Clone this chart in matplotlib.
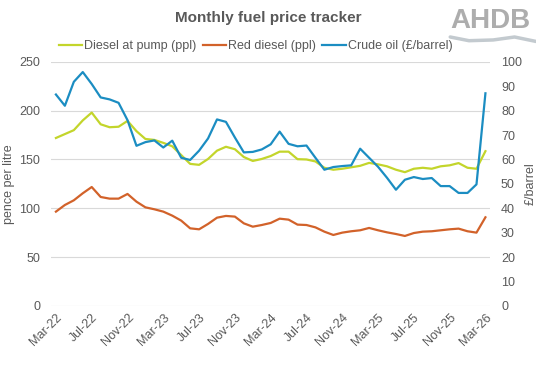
import matplotlib
matplotlib.use("Agg")
import matplotlib.pyplot as plt
from matplotlib.lines import Line2D

plt.rcParams["font.family"] = ["Liberation Sans", "DejaVu Sans"]

TEXT_COLOR = "#595959"
GRID_COLOR = "#D9D9D9"

months = ["Mar-22", "Apr-22", "May-22", "Jun-22", "Jul-22", "Aug-22", "Sep-22", "Oct-22",
          "Nov-22", "Dec-22", "Jan-23", "Feb-23", "Mar-23", "Apr-23", "May-23", "Jun-23",
          "Jul-23", "Aug-23", "Sep-23", "Oct-23", "Nov-23", "Dec-23", "Jan-24", "Feb-24",
          "Mar-24", "Apr-24", "May-24", "Jun-24", "Jul-24", "Aug-24", "Sep-24", "Oct-24",
          "Nov-24", "Dec-24", "Jan-25", "Feb-25", "Mar-25", "Apr-25", "May-25", "Jun-25",
          "Jul-25", "Aug-25", "Sep-25", "Oct-25", "Nov-25", "Dec-25", "Jan-26", "Feb-26",
          "Mar-26"]

diesel_pump = [172, 176, 180, 190, 198, 186, 183, 183.5, 189.5, 179,
               171, 170, 167, 163.5, 154.5, 145.5, 144.5, 150.5, 159, 163,
               160.5, 152.5, 148.5, 150.5, 153.5, 158, 158, 150.3, 150, 148,
               141.5, 139.5, 140.5, 142, 143.5, 146.5, 145, 143, 139.5, 137,
               140.5, 141.5, 140.5, 143, 144, 146.3, 141.5, 140.5, 158.5]

red_diesel = [96.6, 103.4, 108.2, 115.4, 121.8, 111.6, 109.9, 109.9, 114.7, 106.8,
              101, 99, 96.6, 92.5, 87.4, 79.5, 78.5, 84, 90.4, 92.2,
              91.5, 84.6, 81.2, 82.9, 85, 89.4, 88.4, 83.3, 82.9, 80.5,
              76.1, 72.7, 75.1, 76.5, 77.5, 79.9, 77.5, 75.4, 73.7, 71.7,
              74.7, 76.1, 76.5, 77.5, 78.5, 79.2, 76.5, 75.1, 90.8]

crude_oil = [86.6, 82, 91.8, 95.8, 90.9, 85.4, 84.6, 83.2, 76.1, 65.6,
             67.1, 67.8, 64.9, 67.7, 60.7, 59.8, 63.6, 68.6, 76.4, 75.4,
             69, 62.9, 63.1, 64.1, 66.2, 71.4, 66.4, 65.4, 65.7, 60.7,
             55.8, 56.9, 57.3, 57.6, 64.4, 60.7, 57, 52.5, 47.6, 51.7,
             52.8, 52, 52.4, 49.1, 49.1, 46.3, 46.3, 49.8, 87.1]


def plot_tracker(filename="out.png"):
    fig = plt.figure(figsize=(5.36, 3.70), dpi=100)
    ax = fig.add_axes([0.096, 0.173, 0.818, 0.660])
    ax2 = ax.twinx()

    x = range(len(months))
    l1, = ax.plot(x, diesel_pump, color="#C3D52B", lw=1.6, label="Diesel at pump (ppl)")
    l2, = ax.plot(x, red_diesel, color="#D2622A", lw=1.6, label="Red diesel (ppl)")
    l3, = ax2.plot(x, crude_oil, color="#1B8DC2", lw=1.6, label="Crude oil (£/barrel)")

    ax.set_xlim(-0.5, len(months) - 0.5)
    ax.set_ylim(0, 250)
    ax.set_yticks(range(0, 251, 50))
    ax2.set_ylim(0, 100)
    ax2.set_yticks(range(0, 101, 10))

    ax.set_xticks(list(x)[::4])
    ax.set_xticklabels(months[::4], rotation=45, ha="right", rotation_mode="anchor")

    ax.grid(axis="y", color=GRID_COLOR, lw=0.8)
    ax.set_axisbelow(True)
    for a in (ax, ax2):
        for s in a.spines.values():
            s.set_visible(False)
        a.tick_params(length=0, labelsize=9, colors=TEXT_COLOR, pad=8)
    ax.tick_params(axis="x", pad=4)

    ax.set_ylabel("pence per litre", fontsize=9, color=TEXT_COLOR, labelpad=3)
    ax2.set_ylabel("£/barrel", fontsize=9, color=TEXT_COLOR, labelpad=2)

    fig.text(0.5, 0.952, "Monthly fuel price tracker", ha="center", va="center",
             fontsize=11, fontweight="bold", color=TEXT_COLOR)
    fig.legend(handles=[l1, l2, l3], loc="center", bbox_to_anchor=(0.477, 0.875),
               ncol=3, frameon=False, fontsize=9, handlelength=1.9,
               handletextpad=0.15, columnspacing=0.5, labelcolor=TEXT_COLOR)

    # logo: letters plus a light swoosh underneath
    fig.text(0.99, 0.942, "AHDB", ha="right", va="center", fontsize=20,
             fontweight="bold", color="#ADADAD")
    fig.add_artist(Line2D([0.84, 0.875, 0.92, 0.96, 1.0],
                          [0.9, 0.89, 0.892, 0.9, 0.888],
                          transform=fig.transFigure, color="#C3CACF", lw=2.5,
                          solid_capstyle="round"))

    fig.savefig(filename, dpi=100)


if __name__ == "__main__":
    plot_tracker()
